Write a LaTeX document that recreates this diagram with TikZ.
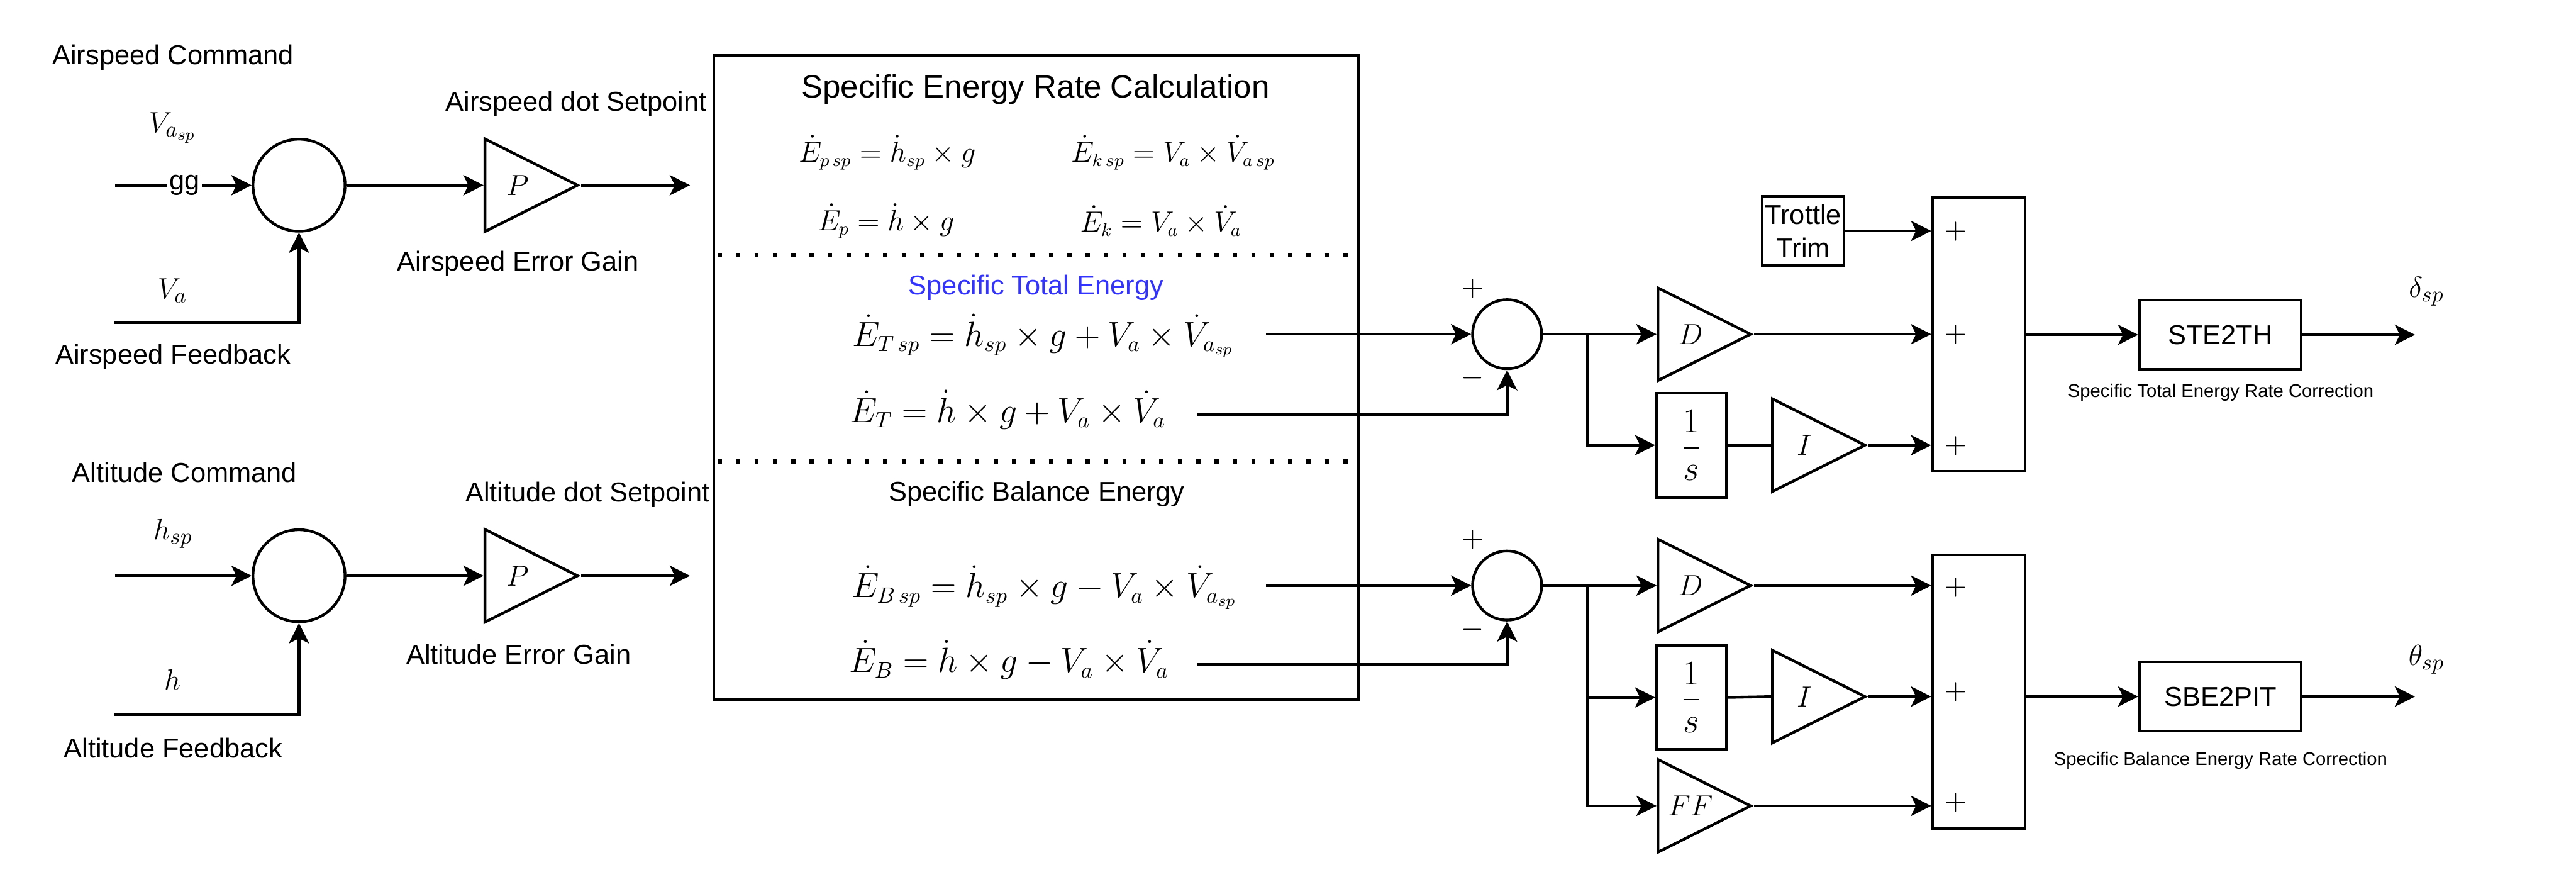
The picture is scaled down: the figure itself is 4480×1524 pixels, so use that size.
\documentclass[tikz,border=0pt]{standalone}
\usepackage[no-math]{fontspec}
\usepackage{amsmath}
\newfontfamily\arialf{Liberation Sans}
\usetikzlibrary{shapes.geometric,arrows.meta,calc}
\definecolor{stblue}{RGB}{51,51,255}
\begin{document}
\begin{tikzpicture}[x=0.01cm,y=-0.01cm,line width=1.35pt,
  >={Stealth[length=10pt,width=10pt,inset=2.5pt]},
  txt/.style={font=\arialf\fontsize{13.5}{16.5}\selectfont,inner sep=0pt},
  ttl/.style={font=\arialf\fontsize{15.9}{19}\selectfont,inner sep=0pt},
  smalltxt/.style={font=\arialf\fontsize{9.1}{11}\selectfont,inner sep=0pt},
  eqsmall/.style={font=\fontsize{13.5}{16}\selectfont,inner sep=0pt},
  eqbig/.style={font=\fontsize{16}{19}\selectfont,inner sep=0pt},
  mlab/.style={font=\fontsize{15.5}{18}\selectfont,inner sep=0pt},
  sign/.style={font=\fontsize{14}{16}\selectfont,inner sep=0pt},
  frac/.style={font=\fontsize{17}{20}\selectfont},
  bigsum/.style={circle,draw,minimum size=1.6cm,inner sep=0pt},
  smallsum/.style={circle,draw,minimum size=1.2cm,inner sep=0pt},
  gain/.style={isosceles triangle,isosceles triangle stretches,draw,
    minimum width=1.61cm,minimum height=1.61cm,inner sep=0pt,anchor=west},
  blk/.style={rectangle,draw,inner sep=0pt},
  sep/.style={line width=2.1pt,dash pattern=on 2.1pt off 7pt}
]
\useasboundingbox (0,0) rectangle (4480,1524);

% ---------- left: airspeed loop ----------
\node[txt] (acmd) at (301,100) {Airspeed Command};
\node[mlab] (lvasp) at (300,222) {$V_{a_{sp}}$};
\node[bigsum] (sumA) at (520,322) {};
\coordinate (inA) at (200,322);
\draw[->] (inA) -- (sumA.west);
\node[txt,fill=white,inner sep=1pt] (gg) at (321,322) {gg};
\node[mlab] (lva) at (300,505) {$V_a$};
\coordinate (fbA) at (198,561);
\draw[->] (fbA) -| (sumA.south);
\node[txt] (afb) at (301,620) {Airspeed Feedback};
\node[gain] (pA) at (841,322) {};
\node[mlab] (pAl) at (900,322) {$P$};
\draw[->] (sumA.east) -- (pA.west);
\coordinate (outA) at (1200,322);
\draw[->] (pA.east) -- (outA);
\node[txt] (adot) at (1002,181) {Airspeed dot Setpoint};
\node[txt] (aeg) at (901,459) {Airspeed Error Gain};

% ---------- left: altitude loop ----------
\node[txt] (hcmd) at (321,821) {Altitude Command};
\node[mlab] (lhsp) at (301,928) {$h_{sp}$};
\node[bigsum] (sumH) at (520,1001) {};
\coordinate (inH) at (200,1001);
\draw[->] (inH) -- (sumH.west);
\node[mlab] (lh) at (300,1182) {$h$};
\coordinate (fbH) at (198,1242);
\draw[->] (fbH) -| (sumH.south);
\node[txt] (hfb) at (301,1300) {Altitude Feedback};
\node[gain] (pH) at (841,1001) {};
\node[mlab] (pHl) at (900,1001) {$P$};
\draw[->] (sumH.east) -- (pH.west);
\coordinate (outH) at (1200,1001);
\draw[->] (pH.east) -- (outH);
\node[txt] (hdot) at (1022,860) {Altitude dot Setpoint};
\node[txt] (heg) at (902,1138) {Altitude Error Gain};

% ---------- energy calculation box ----------
\node[blk,minimum width=11.2cm,minimum height=11.19cm] (calc) at (1802,656.5) {};
\node[ttl] (title) at (1801,156) {Specific Energy Rate Calculation};
\node[eqsmall] (eq1) at (1543,265) {$\dot{E}_{p\,sp} = \dot{h}_{sp} \times g$};
\node[eqsmall] (eq2) at (2040,265) {$\dot{E}_{k\,sp} = V_a \times \dot{V}_{a\,sp}$};
\node[eqsmall] (eq3) at (1541,384) {$\dot{E}_{p} = \dot{h} \times g$};
\node[eqsmall] (eq4) at (2019,384) {$\dot{E}_{k} = V_a \times \dot{V}_{a}$};
\draw[sep] (1248,443) -- (2358,443);
\node[txt,text=stblue] (ste) at (1802,500) {Specific Total Energy};
\node[eqbig] (eq5) at (1814,584) {$\dot{E}_{T\,sp} = \dot{h}_{sp} \times g + V_a \times \dot{V}_{a_{sp}}$};
\node[eqbig] (eq6) at (1753,712) {$\dot{E}_{T} = \dot{h} \times g + V_a \times \dot{V}_{a}$};
\draw[sep] (1248,802) -- (2358,802);
\node[txt] (sbe) at (1803,859) {Specific Balance Energy};
\node[eqbig] (eq7) at (1816,1021) {$\dot{E}_{B\,sp} = \dot{h}_{sp} \times g - V_a \times \dot{V}_{a_{sp}}$};
\node[eqbig] (eq8) at (1755,1147) {$\dot{E}_{B} = \dot{h} \times g - V_a \times \dot{V}_{a}$};

% ---------- total energy controller ----------
\node[smallsum] (j1) at (2621,581) {};
\node[sign] (j1p) at (2561,502) {$+$};
\node[sign] (j1m) at (2561,657) {$-$};
\coordinate (eTsp) at (2202,581);
\coordinate (eT) at (2082,721);
\draw[->] (eTsp) -- (j1.west);
\draw[->] (eT) -| (j1.south);
\node[gain] (d1) at (2881,581) {};
\node[mlab] (d1l) at (2940,581) {$D$};
\draw[->] (j1.east) -- (d1.west);
\coordinate (br1) at (2761,581);
\node[blk,minimum width=1.21cm,minimum height=1.81cm,frac] (int1) at (2941.5,774) {$\dfrac{1}{s}$};
\draw[->] (br1) |- (int1.west);
\node[gain] (i1) at (3080,774) {};
\node[mlab] (i1l) at (3138,774) {$I$};
\draw (int1.east) -- (i1.west);
\node[blk,minimum width=1.61cm,minimum height=4.75cm] (s1) at (3441.5,581.5) {};
\node[blk,minimum width=1.42cm,minimum height=1.21cm,txt,align=center] (trim) at (3136,401.5) {Trottle\\Trim};
\draw[->] (trim.east) -- (trim.east -| s1.west);
\draw[->] (d1.east) -- (d1.east -| s1.west);
\draw[->] (i1.east) -- (i1.east -| s1.west);
\node[sign] (s1p1) at (3401,402) {$+$};
\node[sign] (s1p2) at (3401,582) {$+$};
\node[sign] (s1p3) at (3401,775) {$+$};
\node[blk,minimum width=2.81cm,minimum height=1.2cm,txt] (ste2th) at (3861.5,582) {STE2TH};
\draw[->] (s1.east |- ste2th.west) -- (ste2th.west);
\coordinate (out1) at (4200,582);
\draw[->] (ste2th.east) -- (out1);
\node[mlab] (ldelta) at (4220,507) {$\delta_{sp}$};
\node[smalltxt] (stec) at (3862,682) {Specific Total Energy Rate Correction};

% ---------- balance energy controller ----------
\node[smallsum] (j2) at (2621,1018) {};
\node[sign] (j2p) at (2561,938) {$+$};
\node[sign] (j2m) at (2561,1095) {$-$};
\coordinate (eBsp) at (2202,1018);
\coordinate (eB) at (2082,1155);
\draw[->] (eBsp) -- (j2.west);
\draw[->] (eB) -| (j2.south);
\node[gain] (d2) at (2881,1018) {};
\node[mlab] (d2l) at (2940,1018) {$D$};
\draw[->] (j2.east) -- (d2.west);
\coordinate (br2) at (2761,1018);
\node[blk,minimum width=1.21cm,minimum height=1.81cm,frac] (int2) at (2941.5,1212.5) {$\dfrac{1}{s}$};
\draw[->] (br2) |- (int2.west);
\node[gain] (i2) at (3080,1211) {};
\node[mlab] (i2l) at (3138,1211) {$I$};
\draw (int2.east) -- (i2.west);
\node[gain] (ff) at (2881,1401) {};
\node[mlab] (ffl) at (2940,1401) {$FF$};
\draw[->] (br2) |- (ff.west);
\node[blk,minimum width=1.61cm,minimum height=4.75cm] (s2) at (3441.5,1202.5) {};
\draw[->] (d2.east) -- (d2.east -| s2.west);
\draw[->] (i2.east) -- (i2.east -| s2.west);
\draw[->] (ff.east) -- (ff.east -| s2.west);
\node[sign] (s2p1) at (3401,1021) {$+$};
\node[sign] (s2p2) at (3401,1203) {$+$};
\node[sign] (s2p3) at (3401,1396) {$+$};
\node[blk,minimum width=2.81cm,minimum height=1.2cm,txt] (sbe2pit) at (3861.5,1211) {SBE2PIT};
\draw[->] (s2.east |- sbe2pit.west) -- (sbe2pit.west);
\coordinate (out2) at (4200,1211);
\draw[->] (sbe2pit.east) -- (out2);
\node[mlab] (ltheta) at (4220,1147) {$\theta_{sp}$};
\node[smalltxt] (sbec) at (3862,1322) {Specific Balance Energy Rate Correction};
\end{tikzpicture}
\end{document}
